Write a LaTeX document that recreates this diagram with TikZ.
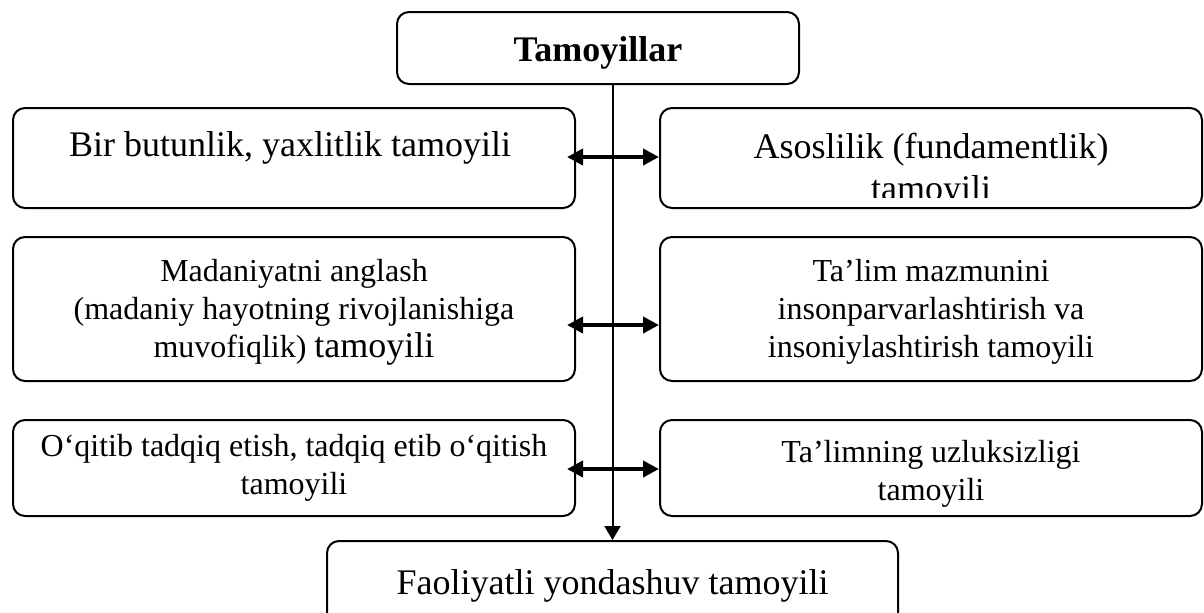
\documentclass[tikz,border=0pt]{standalone}
\usepackage{fontspec}
\setmainfont{Liberation Serif}
\usetikzlibrary{calc,arrows.meta}

\tikzset{
	box/.style={draw, line width=1pt, rounded corners=6pt, inner sep=0pt},
	big/.style={font=\fontsize{18}{21}\selectfont, align=center, inner sep=0pt},
	small/.style={font=\fontsize{16}{19}\selectfont, align=center, inner sep=0pt},
	twoway/.style={line width=2pt, {Triangle[length=8pt,width=8pt]}-{Triangle[length=8pt,width=8pt]}},
	oneway/.style={line width=1pt, -{Triangle[length=7pt,width=8pt]}}
}

\begin{document}
\begin{tikzpicture}[x=0.5pt,y=-0.5pt]
		%%%%% FRAME %%%%%
		\useasboundingbox (0,0) rectangle (1204,612);
		\clip (0,0) rectangle (1204,612);
		
		%%%%% BOXES %%%%%
		\node[box, minimum width=201pt, minimum height=36pt] (top) at (598,48) {};
		
		\node[box, minimum width=281pt, minimum height=50pt] (left1) at (294,158) {};
		\node[box, minimum width=271pt, minimum height=50pt] (right1) at (931,158) {};
		
		\node[box, minimum width=281pt, minimum height=72pt] (left2) at (294,309) {};
		\node[box, minimum width=271pt, minimum height=72pt] (right2) at (931,309) {};
		
		\node[box, minimum width=281pt, minimum height=48pt] (left3) at (294,468) {};
		\node[box, minimum width=271pt, minimum height=48pt] (right3) at (931,468) {};
		
		\node[box, minimum width=285.5pt, minimum height=45pt] (bottom) at (612.5,586) {};
		
		%%%%% TEXTS %%%%%
		\node[big, font=\fontsize{18}{21}\selectfont\bfseries] (t-top) at (598,53) {Tamoyillar};
		
		\node[big] (t-left1) at (290,148) {Bir butunlik, yaxlitlik tamoyili};
		\begin{scope}
			\clip (right1.north west) rectangle ($(right1.east)+(0,39)$);
			\node[big] (t-right1) at (931,171) {Asoslilik (fundamentlik)\\tamoyili};
		\end{scope}
		
		\node[small] (t-left2) at (294,312) {Madaniyatni anglash\\(madaniy hayotning rivojlanishiga\\muvofiqlik) {\fontsize{18}{21}\selectfont tamoyili}};
		\node[small] (t-right2) at (931,312) {Ta’lim mazmunini\\insonparvarlashtirish va\\insoniylashtirish tamoyili};
		
		\node[small] (t-left3) at (294,468) {O‘qitib tadqiq etish, tadqiq etib o‘qitish\\tamoyili};
		\node[small] (t-right3) at (931,474) {Ta’limning uzluksizligi\\tamoyili};
		
		\node[big] (t-bottom) at (612.5,586) {Faoliyatli yondashuv tamoyili};
		
		%%%%% ARROWS %%%%%
		\draw[oneway] (top.south -| bottom.north) -- (bottom.north);
		
		\draw[twoway] ($(left1.east)+(-9,-1)$) -- ($(right1.west)+(0,-1)$);
		\draw[twoway] ($(left2.east)+(-9,16)$) -- ($(right2.west)+(0,16)$);
		\draw[twoway] ($(left3.east)+(-9,1)$) -- ($(right3.west)+(0,1)$);
		
		%%%%% END %%%%%
	\end{tikzpicture}
\end{document}
